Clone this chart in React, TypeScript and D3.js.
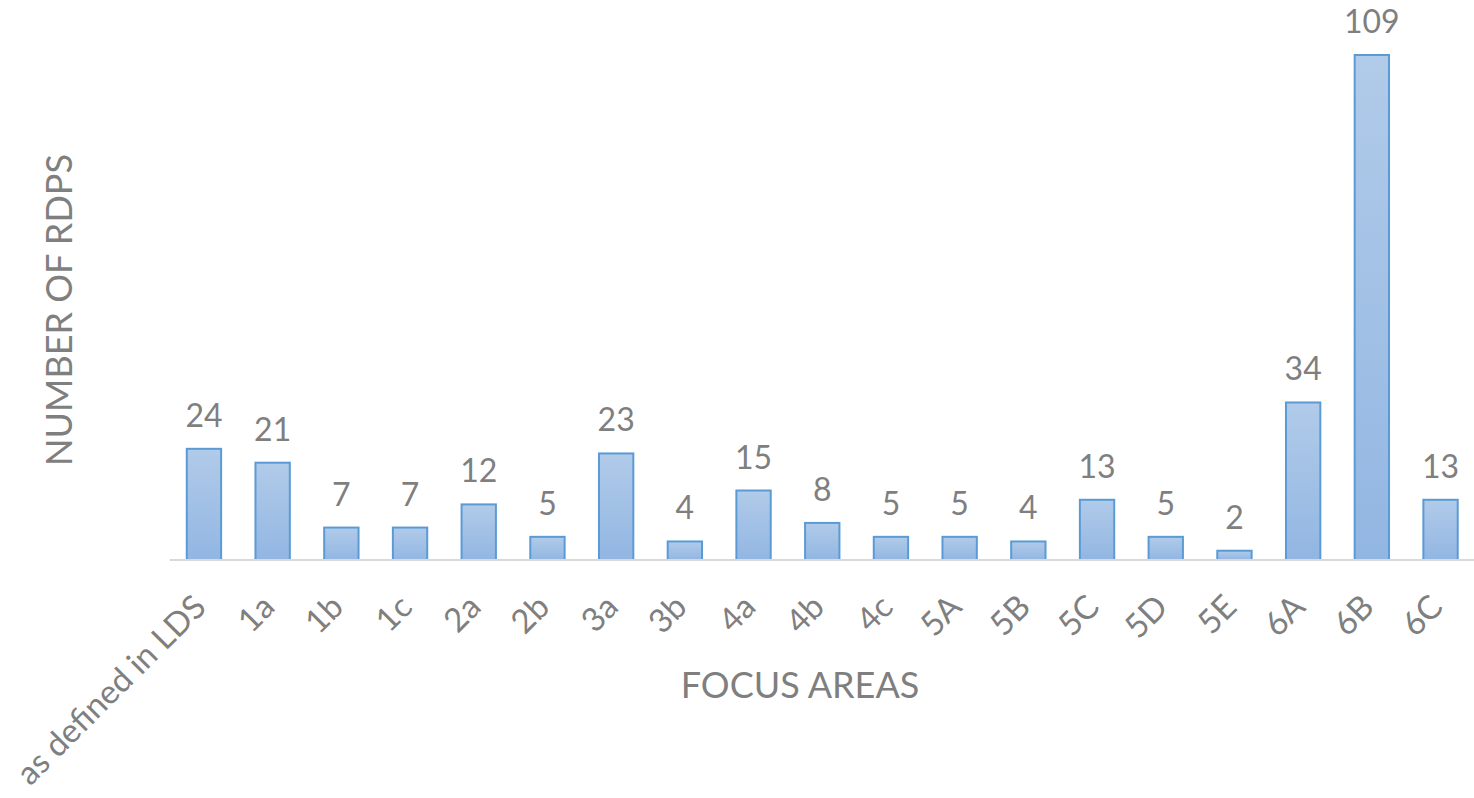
import React, { useEffect, useRef } from 'react';
import * as d3 from 'd3';

const categories = ['as defined in LDS', '1a', '1b', '1c', '2a', '2b', '3a', '3b', '4a', '4b', '4c', '5A', '5B', '5C', '5D', '5E', '6A', '6B', '6C'];
const rdps = [24, 21, 7, 7, 12, 5, 23, 4, 15, 8, 5, 5, 4, 13, 5, 2, 34, 109, 13];

const App: React.FC = () => {
  const svgRef = useRef<SVGSVGElement | null>(null);

  useEffect(() => {
    const svg = d3.select(svgRef.current);
    svg.selectAll('*').remove();
    const width = 1474;
    const height = 798;
    const font = 'Lato, "Open Sans", sans-serif';
    const grey = '#7f7f7f';

    svg.attr('width', width).attr('height', height);

    const x = d3.scaleBand()
      .domain(categories)
      .range([169.6, 169.6 + 68.7 * categories.length])
      .paddingInner(0.5)
      .paddingOuter(0.25);

    const y = d3.scaleLinear()
      .domain([0, 109])
      .range([560, 55]);

    // Gradient fill for bars
    const grad = svg.append('defs').append('linearGradient')
      .attr('id', 'barGrad')
      .attr('x1', 0).attr('y1', 0).attr('x2', 0).attr('y2', 1);
    grad.append('stop').attr('offset', '0%').attr('stop-color', '#b1cbe9');
    grad.append('stop').attr('offset', '100%').attr('stop-color', '#92b6e2');

    // Bars
    svg.append('g')
      .selectAll('rect')
      .data(rdps)
      .enter()
      .append('rect')
      .attr('x', (d, i) => x(categories[i]) as number)
      .attr('y', d => y(d))
      .attr('width', x.bandwidth())
      .attr('height', d => y(0) - y(d))
      .attr('fill', 'url(#barGrad)')
      .attr('stroke', '#5b9bd5')
      .attr('stroke-width', 2);

    // Value labels
    svg.append('g')
      .selectAll('text')
      .data(rdps)
      .enter()
      .append('text')
      .attr('x', (d, i) => (x(categories[i]) as number) + x.bandwidth() / 2)
      .attr('y', d => y(d) - 22)
      .attr('text-anchor', 'middle')
      .attr('font-family', font)
      .attr('font-size', 32)
      .attr('fill', grey)
      .text(d => d);

    // X axis
    const xAxis = svg.append('g')
      .attr('transform', `translate(0,${y(0)})`)
      .call(d3.axisBottom(x).tickSize(0).tickPadding(0));
    xAxis.select('.domain').attr('stroke', '#d9d9d9').attr('stroke-width', 2)
      .attr('d', `M${x.range()[0]},0H${width}`);
    xAxis.selectAll('text')
      .attr('font-family', font)
      .attr('font-size', 33)
      .attr('fill', grey)
      .attr('text-anchor', 'end')
      .attr('dy', null)
      .attr('y', 0)
      .attr('transform', 'translate(4,49) rotate(-45)');

    // X axis label
    svg.append('text')
      .attr('text-anchor', 'middle')
      .attr('x', 800)
      .attr('y', 698)
      .attr('font-family', font)
      .attr('font-size', 36)
      .attr('fill', grey)
      .text('FOCUS AREAS');

    // Y axis label
    svg.append('text')
      .attr('text-anchor', 'middle')
      .attr('transform', 'translate(72,310) rotate(-90)')
      .attr('font-family', font)
      .attr('font-size', 36)
      .attr('fill', grey)
      .text('NUMBER OF RDPS');
  }, []);

  return (
    <svg ref={svgRef} style={{ position: 'absolute', left: 0, top: 0, background: '#fff' }}></svg>
  );
};

export default App;
